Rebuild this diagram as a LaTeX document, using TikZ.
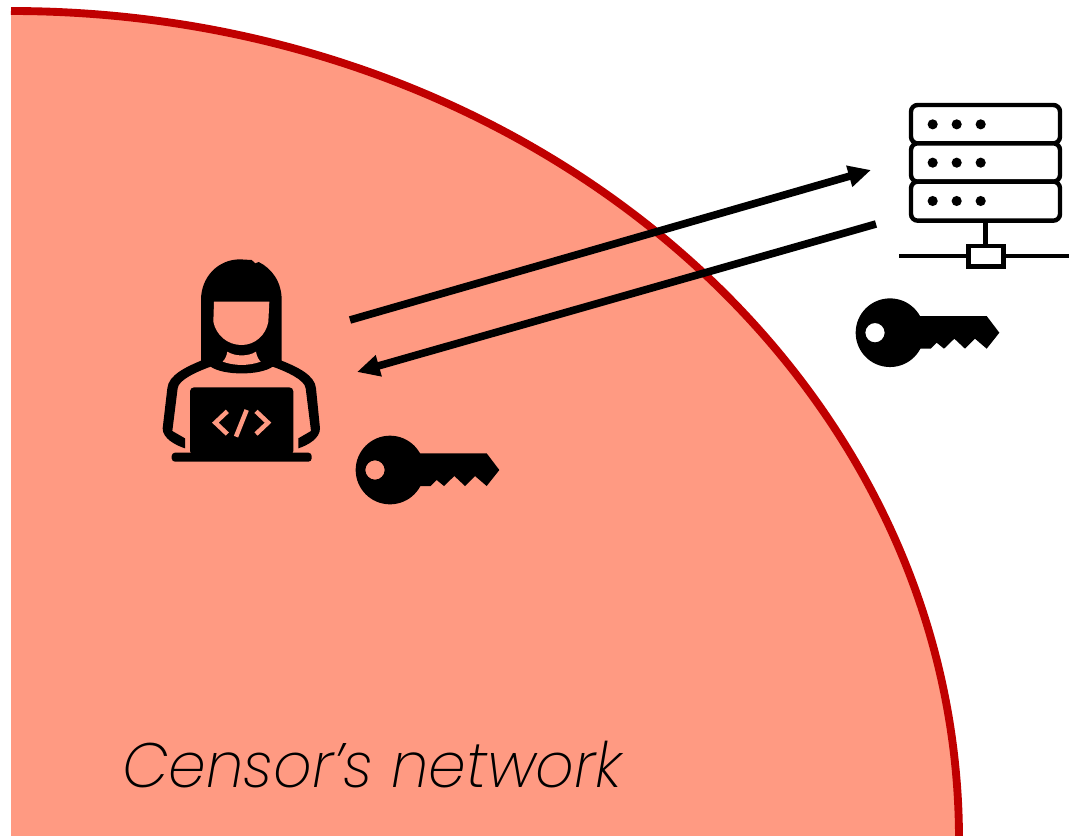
\documentclass[tikz,border=0pt]{standalone}
\usepackage{fontspec}
\newfontfamily\lab{Poppins ExtraLight Italic}[FakeStretch=0.96]
\usetikzlibrary{arrows.meta}
\definecolor{bgred}{HTML}{FF9A82}
\definecolor{edgered}{HTML}{C00000}
\tikzset{
  x=0.75pt,y=-0.75pt,
  conn/.style={draw=black,line width=5.7pt,-{Triangle[length=17pt,width=15.5pt]}},
  srv/.style={draw=black,line width=3.3pt,rounded corners=5pt,fill=white},
  ink/.style={fill=black,draw=none},
  cut/.style={fill=bgred,draw=none},
  labeltext/.style={inner sep=0pt,anchor=base west,font=\lab\fontsize{47}{50}\selectfont}
}
\newcommand{\keyicon}[2]{%
\begin{scope}[shift={(#1,#2)},x=0.25pt,y=-0.25pt]
\fill[ink,even odd rule] (150,150) circle[radius=25.75pt] (105,150) circle[radius=7.25pt];
\fill[ink] (225,100) -- (440,100) -- (478,150) -- (440,198) -- (405,168) -- (375,198) -- (343,168) -- (312,198) -- (290,180) -- (272,198) -- (225,198) -- cycle;
\end{scope}}
\begin{document}
\begin{tikzpicture}
\useasboundingbox (0,0) rectangle (1069,835);
\clip (0,0) rectangle (1069,835);
% network
\fill[bgred] (11,840) -- (11,11) .. controls (534.6,11) and (959,380) .. (959,840) -- cycle;
\draw[edgered,line width=5.9pt] (11,11) .. controls (534.6,11) and (959,380) .. (959,840);
% person
\begin{scope}[shift={(140,240)},x=0.25pt,y=-0.25pt]
\fill[ink] (183,362) -- (183,180) .. controls (183,110) and (235,58) .. (300,58) -- (335,60) -- (346,70) -- (356,66) .. controls (395,85) and (425,125) .. (425,180) -- (425,362)
  .. controls (470,380) and (525,405) .. (528,445) -- (540,565) .. controls (540,595) and (505,615) .. (475,625) -- (475,595) -- (513,573) -- (497,445) .. controls (495,420) and (440,395) .. (398,380)
  .. controls (360,407) and (250,407) .. (212,380)
  .. controls (170,395) and (115,420) .. (113,445) -- (97,573) -- (135,595) -- (135,625) .. controls (105,615) and (68,595) .. (68,565) -- (82,445) .. controls (85,405) and (140,380) .. (183,362) -- cycle;
\fill[cut] (222,185) -- (388,185) -- (385,245) .. controls (378,285) and (345,315) .. (305,315) .. controls (262,315) and (228,285) .. (220,245) -- cycle;
\fill[cut] (262,335) .. controls (285,350) and (325,350) .. (348,335) .. controls (350,348) and (355,358) .. (362,365) .. controls (325,378) and (285,378) .. (248,365) .. controls (255,358) and (260,348) .. (262,335) -- cycle;
\fill[ink,rounded corners=3pt] (150,645) -- (150,442) -- (460,442) -- (460,645) -- cycle;
\fill[ink,rounded corners=2.5pt] (95,638) -- (515,638) -- (515,665) -- (95,665) -- cycle;
\draw[bgred,line width=3.4pt] (262,514) -- (226,548) -- (262,582);
\draw[bgred,line width=3.4pt] (348,514) -- (384,548) -- (348,582);
\draw[bgred,line width=3.4pt] (320,510) -- (288,590);
\end{scope}
% server
\begin{scope}[shift={(850,90)},x=0.25pt,y=-0.25pt]
\draw[srv] (183,45) rectangle (630,160);
\draw[srv] (183,160) rectangle (630,275);
\draw[srv] (183,275) rectangle (630,392);
\foreach \yy in {103,218,333}{\foreach \xx in {248,320,392}{\fill[ink] (\xx,\yy) circle[radius=3.8pt];}}
\draw[black,line width=3.3pt] (407,392) -- (407,468);
\draw[black,line width=3pt] (148,499) -- (660,499);
\draw[black,line width=3.3pt,fill=white] (355,468) rectangle (460,530);
\end{scope}
% keys
\keyicon{340}{420}
\keyicon{840}{282.7}
% arrows
\coordinate (userout) at (350,320);
\coordinate (serverin) at (871,170);
\coordinate (serverout) at (876,224);
\coordinate (userin) at (357,372);
\draw[conn] (userout) -- (serverin);
\draw[conn] (serverout) -- (userin);
\node[labeltext] (netlabel) at (122,787) {Censor’s network};
\end{tikzpicture}
\end{document}
